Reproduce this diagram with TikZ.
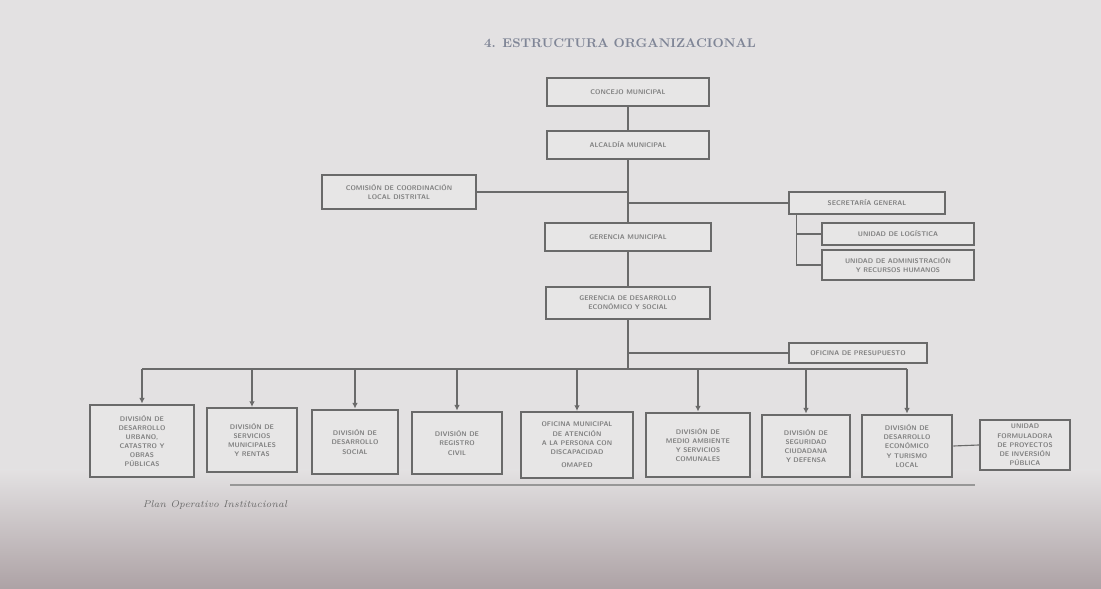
\documentclass[tikz,border=0pt]{standalone}
\usetikzlibrary{arrows.meta, backgrounds}
\usepackage{xcolor}
\definecolor{paper}{HTML}{E3E1E2}
\definecolor{ink}{HTML}{6A6A6A}
\definecolor{dusk}{HTML}{ADA2A5}
\definecolor{titleblue}{HTML}{7F8596}

\begin{document}
\begin{tikzpicture}[
            x=0.025cm, y=-0.025cm,
            block/.style = {rectangle, draw=ink, line width=1.5pt, fill=paper!85!white, align=center,
                            font=\sffamily\bfseries\fontsize{4.8}{6.5}\selectfont, text=ink!85, inner sep=1pt},
            link/.style = {draw=ink, line width=0.8pt},
            arrow/.style = {-{Latex[width=4, length=4]}, draw=ink, line width=0.8pt}]
            % paper
            \fill[paper] (0,0) rectangle (1101,589);
            \shade[top color=paper, bottom color=dusk] (0,470) rectangle (1101,589);
            % Text
            \node (title) at (620,43) [font=\bfseries\small, text=titleblue] {4. ESTRUCTURA ORGANIZACIONAL};
            % nodes
            \node (cm) at (628,92)  [block, minimum width=4.05cm, minimum height=0.68cm] {CONCEJO MUNICIPAL};
            \node (am) at (628,145) [block, minimum width=4.07cm, minimum height=0.7cm] {ALCALDÍA MUNICIPAL};
            \node (ct) at (399,192) [block, minimum width=3.85cm, minimum height=0.85cm] {COMISIÓN DE COORDINACIÓN\\ LOCAL DISTRITAL};
            \node (sg) at (867,203) [block, minimum width=3.9cm, minimum height=0.55cm] {SECRETARÍA GENERAL};
            \node (ul) at (898,234) [block, minimum width=3.82cm, minimum height=0.55cm] {UNIDAD DE LOGÍSTICA};
            \node (ua) at (898,265) [block, minimum width=3.82cm, minimum height=0.75cm] {UNIDAD DE ADMINISTRACIÓN\\ Y RECURSOS HUMANOS};
            \node (gm) at (628,237) [block, minimum width=4.17cm, minimum height=0.7cm] {GERENCIA MUNICIPAL};
            \node (gd) at (628,303) [block, minimum width=4.12cm, minimum height=0.82cm] {GERENCIA DE DESARROLLO\\ ECONÓMICO Y SOCIAL};
            \node (op) at (858,353) [block, minimum width=3.47cm, minimum height=0.5cm] {OFICINA DE PRESUPUESTO};
            \begin{scope}[every node/.style={block}]
            \node (d1) at (142,441)  [minimum width=2.62cm, minimum height=1.82cm] {DIVISIÓN DE\\ DESARROLLO\\ URBANO,\\ CATASTRO Y\\ OBRAS\\ PÚBLICAS};
            \node (d2) at (252,440)  [minimum width=2.25cm, minimum height=1.6cm] {DIVISIÓN DE\\ SERVICIOS\\ MUNICIPALES\\ Y RENTAS};
            \node (d3) at (355,442)  [minimum width=2.15cm, minimum height=1.62cm] {DIVISIÓN DE\\ DESARROLLO\\ SOCIAL};
            \node (d4) at (457,443)  [minimum width=2.27cm, minimum height=1.57cm] {DIVISIÓN DE\\ REGISTRO\\ CIVIL};
            \node (d5) at (577,445)  [minimum width=2.82cm, minimum height=1.65cm] {OFICINA MUNICIPAL\\ DE ATENCIÓN\\ A LA PERSONA CON\\ DISCAPACIDAD\\[3pt] OMAPED};
            \node (d6) at (698,445)  [minimum width=2.6cm, minimum height=1.62cm] {DIVISIÓN DE\\ MEDIO AMBIENTE\\ Y SERVICIOS\\ COMUNALES};
            \node (d7) at (806,446)  [minimum width=2.2cm, minimum height=1.57cm] {DIVISIÓN DE\\ SEGURIDAD\\ CIUDADANA\\ Y DEFENSA};
            \node (d8) at (907,446)  [minimum width=2.27cm, minimum height=1.57cm] {DIVISIÓN DE\\ DESARROLLO\\ ECONÓMICO\\ Y TURISMO\\ LOCAL};
            \node (d9) at (1025,445) [minimum width=2.25cm, minimum height=1.27cm] {UNIDAD\\ FORMULADORA\\ DE PROYECTOS\\ DE INVERSIÓN\\ PÚBLICA};
            \end{scope}
            \coordinate (bus) at (628,369);
            % Connections
            \draw [link] (cm.south) -- (am.north);
            \draw [link] (am.south) -- (gm.north);
            \draw [link] (gm.south) -- (gd.north);
            \draw [link] (ct.east) -- (ct.east -| am.south);
            \draw [link] (sg.west -| am.south) -- (sg.west);
            \draw [link] ([xshift=6]sg.south west) |- (ul.west);
            \draw [link] ([xshift=6]sg.south west) |- (ua.west);
            \draw [link] (gd.south) -- (bus);
            \draw [link] (gd.south |- op.west) -- (op.west);
            \draw [link] (d1.north |- bus) -- (d8.north |- bus);
            \foreach \n in {1,...,8}
              \draw [arrow] (d\n.north |- bus) -- (d\n.north);
            \draw [link] (d8.east) -- (d9.west);
            % footer
            \draw [ink!70, line width=0.8pt] (230,485) -- (975,485);
            \node (foot) at (215,505) [font=\itshape\scriptsize, text=ink] {Plan Operativo Institucional};
        \end{tikzpicture}
\end{document}
